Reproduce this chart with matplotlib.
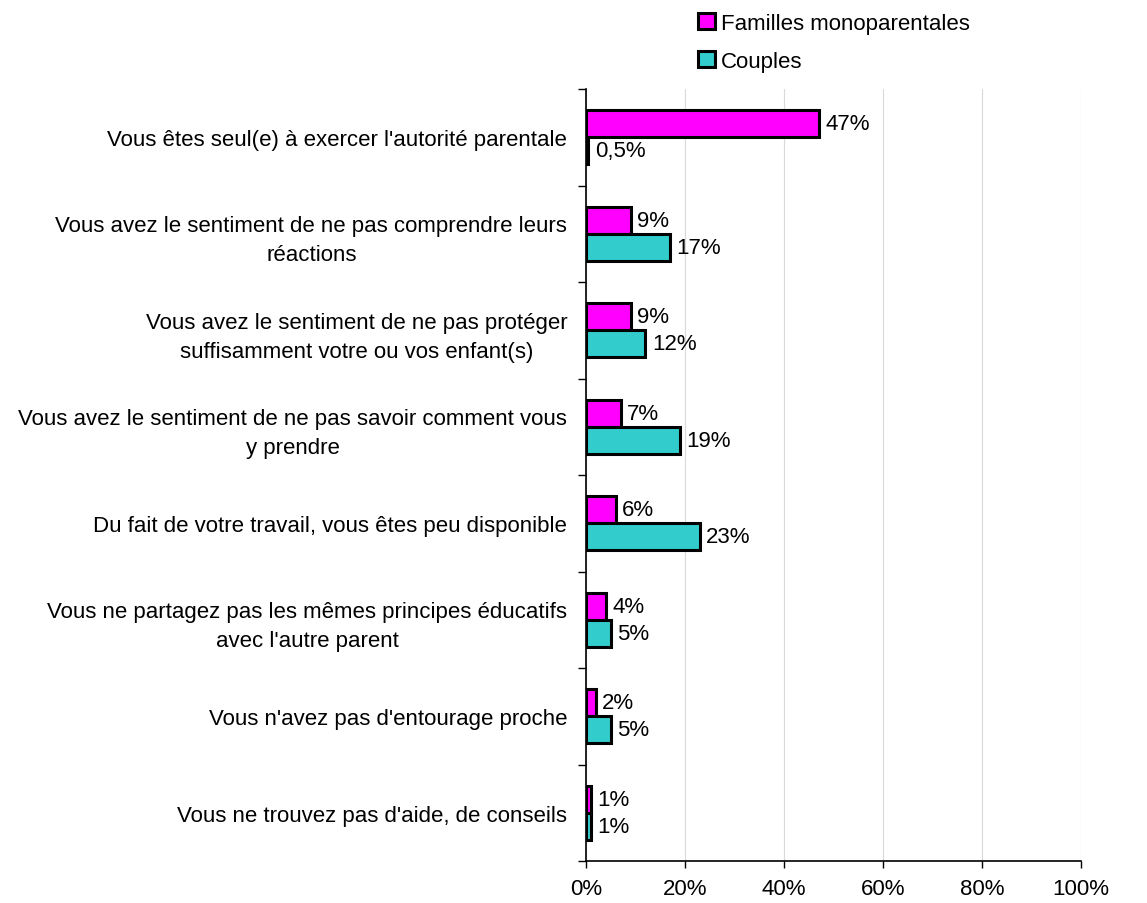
import matplotlib
matplotlib.use("Agg")
import matplotlib.pyplot as plt
import numpy as np
from matplotlib.ticker import FixedLocator

plt.rcParams['font.family'] = ['Liberation Sans', 'DejaVu Sans']

categories = [
    "Vous êtes seul(e) à exercer l'autorité parentale",
    "Vous avez le sentiment de ne pas comprendre leurs\nréactions",
    "Vous avez le sentiment de ne pas protéger\nsuffisamment votre ou vos enfant(s)",
    "Vous avez le sentiment de ne pas savoir comment vous\ny prendre",
    "Du fait de votre travail, vous êtes peu disponible",
    "Vous ne partagez pas les mêmes principes éducatifs\navec l'autre parent",
    "Vous n'avez pas d'entourage proche",
    "Vous ne trouvez pas d'aide, de conseils",
]
monoparentales = [47, 9, 9, 7, 6, 4, 2, 1]
couples = [0.5, 17, 12, 19, 23, 5, 5, 1]
series_names = ["Familles monoparentales", "Couples"]
colors = ["#FF00FF", "#33CCCC"]
x_ticks = [0, 20, 40, 60, 80, 100]


def pct_label(v):
    if float(v).is_integer():
        return f"{int(v)}%"
    return f"{v}".replace(".", ",") + "%"


fig = plt.figure(figsize=(11.47, 9.04), dpi=100)
ax = fig.add_axes([586 / 1147, 1 - 862 / 904, (1081 - 586) / 1147, (862 - 90) / 904])

y = np.arange(len(categories))
h = 0.28
font_size = 16

for offset, vals, name, col in [(-h / 2, monoparentales, series_names[0], colors[0]),
                                (h / 2, couples, series_names[1], colors[1])]:
    ax.barh(y + offset, vals, height=h, color=col, edgecolor="black",
            linewidth=2.2, label=name, zorder=3)
    for yi, v in zip(y + offset, vals):
        ax.text(v + 1.3, yi, pct_label(v), va="center", ha="left",
                fontsize=font_size, color="black", zorder=4)

ax.set_xlim(0, 100)
ax.set_ylim(len(categories) - 0.5, -0.5)

ax.xaxis.set_major_locator(FixedLocator(x_ticks))
ax.set_xticklabels([f"{t}%" for t in x_ticks], fontsize=font_size)
ax.tick_params(axis="x", direction="out", length=5, width=1, pad=7)

ax.set_yticks(y)
ax.set_yticklabels(categories, fontsize=font_size, multialignment="center",
                   linespacing=1.5)
ax.tick_params(axis="y", which="major", length=0, pad=13.5)
ax.yaxis.set_minor_locator(FixedLocator(np.arange(-0.5, len(categories), 1.0)))
ax.tick_params(axis="y", which="minor", direction="out", length=6, width=1)

ax.grid(axis="x", color="#d9d9d9", linewidth=0.8, zorder=0)
ax.set_axisbelow(True)
for s in ["top", "right"]:
    ax.spines[s].set_visible(False)
for s in ["left", "bottom"]:
    ax.spines[s].set_linewidth(1.2)
    ax.spines[s].set_color("black")

fig.legend(loc="upper left", bbox_to_anchor=(698 / 1147, 1 - 14 / 904),
           frameon=False, fontsize=font_size, handlelength=0.75,
           handleheight=0.75, handletextpad=0.3, labelspacing=0.75,
           borderaxespad=0, borderpad=0)

fig.savefig("out.png", dpi=100)
